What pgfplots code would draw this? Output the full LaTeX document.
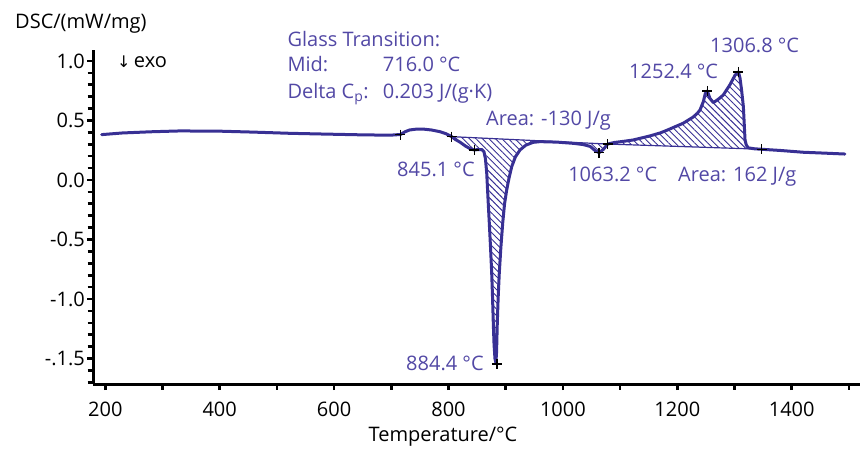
\documentclass[border=0pt]{standalone}
\usepackage{fontspec}
\setmainfont{Open Sans}
\newfontfamily\dejavu{DejaVu Sans}
\usepackage{pgfplots}
\pgfplotsset{compat=1.18}
\usetikzlibrary{patterns.meta}
\definecolor{curvecol}{RGB}{56,48,148}
\definecolor{txtcol}{RGB}{82,72,165}

\pgfplotstableread{
x y
193.7 0.381
230 0.395
280 0.405
330 0.412
400 0.410
460 0.402
523 0.392
580 0.386
640 0.380
697 0.376
716 0.382
724 0.405
732 0.420
745 0.428
755 0.428
770 0.420
785 0.406
796 0.388
805.6 0.364
}\segA

\pgfplotstableread{
x y
805.6 0.364
812 0.340
820 0.318
830 0.284
838 0.262
845.1 0.252
852 0.256
858 0.256
862 0.238
864.5 0.180
866.8 0.060
869 -0.150
871.3 -0.360
873.5 -0.570
875.5 -0.780
877 -0.990
878.3 -1.200
879.6 -1.380
881.2 -1.500
882.8 -1.535
884 -1.450
885.3 -1.200
886.8 -0.990
888.8 -0.780
891.5 -0.570
894.8 -0.360
898 -0.200
901.7 -0.084
906 0.020
910.5 0.112
917 0.195
925 0.252
935 0.292
947.7 0.316
960 0.322
990 0.318
1017.8 0.308
1035 0.298
1047.7 0.282
1056.5 0.246
1063.2 0.229
1071 0.258
1078 0.302
}\segB

\pgfplotstableread{
x y
1078 0.302
1090 0.315
1105 0.324
1122.6 0.336
1135 0.350
1152 0.370
1170 0.395
1182 0.418
1195 0.445
1210 0.476
1227.3 0.527
1235 0.560
1239.7 0.588
1245.5 0.658
1249 0.728
1252.4 0.748
1257 0.686
1263 0.650
1271.6 0.678
1280.4 0.714
1292 0.800
1300.9 0.880
1306.8 0.908
1309.6 0.857
1312.5 0.750
1315.5 0.616
1318.4 0.336
1320.5 0.295
1324 0.270
1335 0.262
1347.6 0.258
}\segC

\pgfplotstableread{
x y
1347.6 0.258
1380 0.248
1420 0.233
1460 0.225
1493 0.218
}\segD

\begin{document}
\fontsize{20}{24}\selectfont
\begin{tikzpicture}[x=1pt,y=1pt]
\begin{axis}[
  at={(93pt,66pt)}, anchor=south west,
  scale only axis, width=767pt, height=334pt,
  xmin=178.5, xmax=1519.4, ymin=-1.714, ymax=1.092,
  axis lines*=left,
  axis line style={line width=3pt, black},
  tick align=outside,
  tick style={line width=2.6pt, black},
  major tick length=6pt, minor tick length=5.5pt,
  xtick={200,400,600,800,1000,1200,1400},
  xticklabels={200,400,600,800,1000,1200,1400},
  minor xtick={300,500,700,900,1100,1300,1500},
  ytick={-1.5,-1,-0.5,0,0.5,1},
  yticklabels={-.1.5,-1.0,-0.5,0.0,0.5,1.0},
  minor ytick={-1.7,-1.6,-1.4,-1.3,-1.2,-1.1,-0.9,-0.8,-0.7,-0.6,-0.4,-0.3,-0.2,-0.1,0.1,0.2,0.3,0.4,0.6,0.7,0.8,0.9},
  xticklabel style={anchor=north, inner sep=0pt, yshift=-11.7pt, font=\fontsize{20}{24}\selectfont},
  yticklabel style={anchor=east, inner sep=0pt, xshift=-2pt, font=\fontsize{20}{24}\selectfont},
  clip=false,
]
% hatched areas
\addplot[draw=none, pattern={Lines[angle=-45,distance=4.6pt,line width=0.9pt]}, pattern color=curvecol] table {\segB} -- cycle;
\addplot[draw=none, pattern={Lines[angle=-45,distance=4.6pt,line width=0.9pt]}, pattern color=curvecol] table {\segC} -- cycle;
% baselines
\addplot[curvecol, line width=1.2pt] coordinates {(805.6,0.364) (1078,0.302)};
\addplot[curvecol, line width=1.2pt] coordinates {(1078,0.302) (1347.6,0.258)};
% curve
\addplot[curvecol, line width=3pt, line join=round, line cap=round] table {\segA};
\addplot[curvecol, line width=3pt, line join=round, line cap=round] table {\segB};
\addplot[curvecol, line width=3pt, line join=round, line cap=round] table {\segC};
\addplot[curvecol, line width=3pt, line join=round, line cap=round] table {\segD};
% markers
\addplot[only marks, mark=+, mark size=5pt, black, mark options={line width=1.5pt}] coordinates {
 (716,0.382) (805.6,0.364) (845.1,0.252) (884.4,-1.545) (1063.2,0.229) (1078,0.302) (1252.4,0.748) (1306.8,0.908) (1347.6,0.258)};
% annotations
\begin{scope}[every node/.style={anchor=base west, inner sep=0pt, text=txtcol}]
\node at (axis cs:518.2,1.120) {Glass Transition:};
\node at (axis cs:518.2,0.910) {Mid:};
\node at (axis cs:685,0.910) {716.0 °C};
\node at (axis cs:518.2,0.687) {Delta C\textsubscript{p}:};
\node at (axis cs:685,0.687) {0.203 J/(g·K)};
\node at (axis cs:865.6,0.454) {Area: -130 J/g};
\node at (axis cs:710,0.028) {845.1 °C};
\node at (axis cs:725.7,-1.597) {884.4 °C};
\node at (axis cs:1009,-0.014) {1063.2 °C};
\node at (axis cs:1201.2,-0.014) {Area: 162 J/g};
\node at (axis cs:1115.6,0.849) {1252.4 °C};
\node at (axis cs:1257.2,1.070) {1306.8 °C};
\end{scope}
\node[anchor=base west, inner sep=0pt, text=black] at (axis cs:220.5,0.941) {{\dejavu\fontsize{16}{18}\selectfont ↓}\,exo};
\end{axis}
\node[anchor=base west, inner sep=0pt] at (15,421.7) {DSC/(mW/mg)};
\node[anchor=base, inner sep=0pt] at (443,9) {Temperature/°C};
\pgfresetboundingbox
\path[use as bounding box] (0,0) rectangle (867,450);
\end{tikzpicture}
\end{document}
